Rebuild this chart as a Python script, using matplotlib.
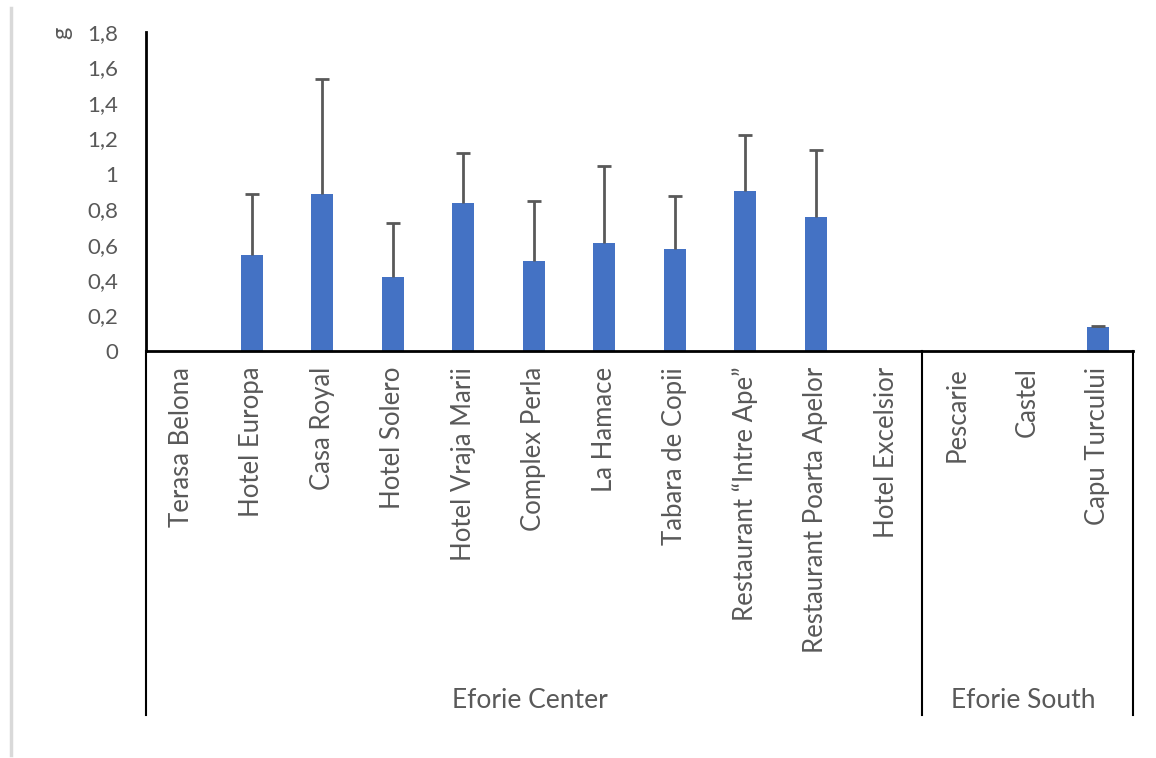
import matplotlib
matplotlib.use("Agg")
import matplotlib.pyplot as plt
import numpy as np

categories = ["Terasa Belona", "Hotel Europa", "Casa Royal", "Hotel Solero",
              "Hotel Vraja Marii", "Complex Perla", "La Hamace", "Tabara de Copii",
              "Restaurant \u201cIntre Ape\u201d", "Restaurant Poarta Apelor",
              "Hotel Excelsior", "Pescarie", "Castel", "Capu Turcului"]
values = [0, 0.544, 0.888, 0.416, 0.837, 0.510, 0.612, 0.578, 0.900, 0.755, 0, 0, 0, 0.138]
errors = [0, 0.340, 0.645, 0.306, 0.280, 0.339, 0.430, 0.295, 0.321, 0.379, 0, 0, 0, 0.005]
groups = ["Eforie Center", "Eforie South"]
group_sizes = [11, 3]
yticks = [0, 0.2, 0.4, 0.6, 0.8, 1.0, 1.2, 1.4, 1.6, 1.8]
ytick_labels = ["0", "0,2", "0,4", "0,6", "0,8", "1", "1,2", "1,4", "1,6", "1,8"]

W, H = 1156, 758
fig = plt.figure(figsize=(W / 100, H / 100), dpi=100)
plt.rcParams['font.family'] = ['Lato', 'DejaVu Sans']
txt = "#595959"

left, right = 146 / W, 1133 / W
bottom, top = 1 - 351 / H, 1 - 32 / H
ax = fig.add_axes([left, bottom, right - left, top - bottom])

x = np.arange(len(categories))
ax.bar(x, values, width=0.31, color="#4472C4", zorder=2)
mask = np.array(errors) > 0
_, caps, _ = ax.errorbar(x[mask], np.array(values)[mask],
                         yerr=[np.zeros(mask.sum()), np.array(errors)[mask]],
                         fmt="none", ecolor="#595959", elinewidth=2, capsize=5,
                         capthick=2, zorder=3)
caps[0].set_visible(False)  # hide lower caps (only plus error shown)

ax.set_xlim(-0.5, len(categories) - 0.5)
ax.set_ylim(0, 1.8)
ax.set_yticks(yticks)
ax.set_yticklabels(ytick_labels, fontsize=16, color=txt)
ax.tick_params(axis="y", length=0, pad=20)
ax.set_xticks([])
for s in ["top", "right"]:
    ax.spines[s].set_visible(False)
ax.spines["left"].set_linewidth(2)
ax.spines["bottom"].set_linewidth(2)
ax.spines["left"].set_color("black")
ax.spines["bottom"].set_color("black")

# category labels
trans = ax.get_xaxis_transform()
for i, c in enumerate(categories):
    ax.text(i, -0.05, c, rotation=90, ha="center", va="top", fontsize=18.5,
            color=txt, transform=trans)

# group separators and labels
bottom_line = (1 - 715 / H - bottom) / (top - bottom)
bounds = np.concatenate([[0], np.cumsum(group_sizes)]) - 0.5
for b in bounds:
    ax.plot([b, b], [0, bottom_line], color="black", lw=1.5, transform=trans,
            clip_on=False, zorder=4)
group_y = (1 - 700 / H - bottom) / (top - bottom)
for g, a, b in zip(groups, bounds[:-1], bounds[1:]):
    ax.text((a + b) / 2 - 0.05, group_y, g, ha="center", va="center", fontsize=19,
            color=txt, transform=trans)

# y label
fig.text(62 / W, 1 - 33 / H, "g", rotation=90, ha="center", va="center",
         fontsize=17, color=txt)

# frame edge line
fig.add_artist(plt.Line2D([11 / W, 11 / W], [1 - 8 / H, 1 - 755 / H], color="#d9d9d9", lw=2.5))

fig.savefig("out.png", dpi=100)
